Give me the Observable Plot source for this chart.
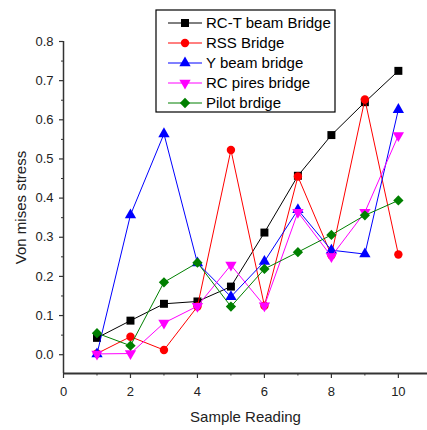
<!DOCTYPE html>
<html>
<head>
<meta charset="utf-8">
<script src="https://cdn.jsdelivr.net/npm/d3@7"></script>
<script src="https://cdn.jsdelivr.net/npm/@observablehq/plot@0.6"></script>
<style>
  html, body { margin: 0; padding: 0; background: #fff; }
  #chart { width: 427px; height: 430px; }
</style>
</head>
<body>
<div id="chart"></div>
<script>
// ---- data ----
const samples = [1, 2, 3, 4, 5, 6, 7, 8, 9, 10];
const seriesNames = ["RC-T beam Bridge", "RSS Bridge", "Y beam bridge", "RC pires bridge", "Pilot brdige"];
const rcTBeam = [0.043, 0.087, 0.130, 0.136, 0.174, 0.312, 0.457, 0.561, 0.645, 0.725];
const rssBridge = [0.003, 0.046, 0.012, 0.123, 0.523, 0.125, 0.455, 0.254, 0.652, 0.256];
const yBeam = [0.002, 0.357, 0.564, 0.234, 0.148, 0.238, 0.370, 0.267, 0.257, 0.626];
const rcPires = [0.002, 0.003, 0.081, 0.124, 0.229, 0.125, 0.364, 0.251, 0.364, 0.560];
const pilot = [0.055, 0.023, 0.185, 0.235, 0.123, 0.219, 0.262, 0.306, 0.356, 0.394];
const xMajorTicks = [0, 2, 4, 6, 8, 10];
const xMinorTicks = [1, 3, 5, 7, 9];
const yMajorTicks = [0, 0.1, 0.2, 0.3, 0.4, 0.5, 0.6, 0.7, 0.8];
const yMinorTicks = [0.05, 0.15, 0.25, 0.35, 0.45, 0.55, 0.65, 0.75];
const xLabel = "Sample Reading";
const yLabel = "Von mises stress";

// ---- styling ----
const colors = ["#000000", "#ff0000", "#0000ff", "#ff00ff", "#008000"];
const symbols = ["square", "circle", "triangle", "triangle", "square"];
const rotations = [0, 0, 0, 180, 45];
const radii = [4.5, 4.2, 4.2, 4.2, 4.1];
const allValues = [rcTBeam, rssBridge, yBeam, rcPires, pilot];

const series = seriesNames.map((name, i) => ({
  name, color: colors[i], symbol: symbols[i], rotate: rotations[i], r: radii[i],
  data: samples.map((x, j) => ({x, y: allValues[i][j]}))
}));

const xDomain = [0, 10.87];
const yDomain = [-0.048, 0.8];
const font = "'Liberation Sans', Arial, sans-serif";
const axisColor = "#333";

const seriesMarks = series.flatMap(s => [
  Plot.line(s.data, {x: "x", y: "y", stroke: s.color, strokeWidth: 1}),
  Plot.dot(s.data, {x: "x", y: "y", symbol: s.symbol, r: s.r, rotate: s.rotate, fill: s.color, stroke: "none"})
]);

function legend(index, scales, values, dimensions) {
  const g = d3.create("svg:g").attr("font-family", font);
  const bx = 156, by = 10, bw = 179, bh = 102, row = 20, y0 = 23;
  g.append("rect").attr("x", bx).attr("y", by).attr("width", bw).attr("height", bh)
    .attr("fill", "#fff").attr("stroke", "#000").attr("stroke-width", 1.2);
  const symMap = {square: d3.symbolSquare, circle: d3.symbolCircle, triangle: d3.symbolTriangle};
  series.forEach((s, i) => {
    const y = y0 + i * row;
    g.append("line").attr("x1", 168).attr("x2", 202).attr("y1", y).attr("y2", y)
      .attr("stroke", s.color).attr("stroke-width", 1);
    g.append("path").attr("d", d3.symbol(symMap[s.symbol], s.r * s.r * Math.PI)())
      .attr("transform", `translate(185,${y}) rotate(${s.rotate})`).attr("fill", s.color);
    g.append("text").attr("x", 206).attr("y", y).attr("dy", "0.35em")
      .attr("text-anchor", "start").style("text-anchor", "start")
      .attr("font-size", 15).attr("fill", "#000").text(s.name);
  });
  return g.node();
}

const chart = Plot.plot({
  width: 427,
  height: 430,
  marginLeft: 63,
  marginRight: 0,
  marginTop: 41,
  marginBottom: 57,
  style: {fontFamily: font, fontSize: "13px", color: "#222", background: "#fff", overflow: "visible"},
  x: {domain: xDomain},
  y: {domain: yDomain},
  marks: [
    Plot.axisX(xMinorTicks, {tickSize: 2.5, tickFormat: () => "", stroke: axisColor, label: null}),
    Plot.axisX(xMajorTicks, {tickSize: 5, tickPadding: 8, stroke: axisColor, strokeWidth: 1.2,
      label: xLabel, labelAnchor: "center", labelArrow: "none", labelOffset: 48}),
    Plot.axisY(yMinorTicks, {tickSize: 2, tickFormat: () => "", stroke: axisColor, label: null}),
    Plot.axisY(yMajorTicks, {tickSize: 4, tickPadding: 6, stroke: axisColor, strokeWidth: 1.2,
      tickFormat: d3.format(".1f"),
      label: yLabel, labelAnchor: "center", labelArrow: "none", labelOffset: 48}),
    Plot.ruleY([yDomain[0]], {stroke: axisColor, strokeWidth: 2}),
    Plot.ruleX([0], {y1: yDomain[0], y2: yDomain[1], stroke: axisColor, strokeWidth: 1.5}),
    ...seriesMarks,
    legend
  ]
});
d3.select(chart).selectAll("text")
  .filter(function() { return this.textContent === xLabel || this.textContent === yLabel; })
  .style("font-size", "15px").attr("fill", "#222");
document.getElementById("chart").appendChild(chart);
</script>
</body>
</html>
